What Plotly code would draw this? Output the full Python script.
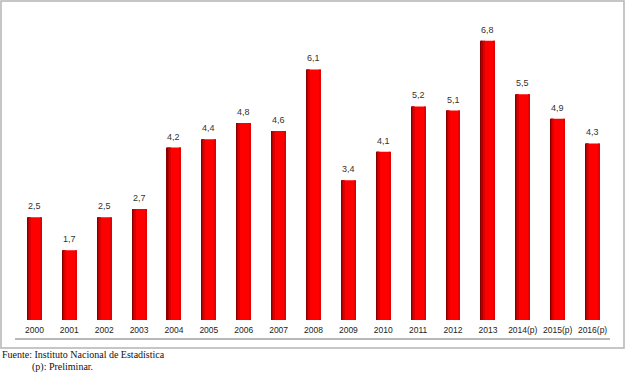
import plotly.graph_objects as go

years = ["2000", "2001", "2002", "2003", "2004", "2005", "2006", "2007", "2008",
         "2009", "2010", "2011", "2012", "2013", "2014(p)", "2015(p)", "2016(p)"]
values = [2.5, 1.7, 2.5, 2.7, 4.2, 4.4, 4.8, 4.6, 6.1, 3.4, 4.1, 5.2, 5.1, 6.8, 5.5, 4.9, 4.3]
labels = [f"{v:.1f}".replace(".", ",") for v in values]

W, H = 626, 376
ML, MR, MT, MB = 17, 16, 12, 56
pw = W - ML - MR
ph = H - MT - MB

def px(x):
    return (x - ML) / pw

def py(y):
    return (H - MB - y) / ph

BW = 0.4
fig = go.Figure()
# main bar
fig.add_trace(go.Bar(
    x=years, y=values, width=BW, offset=-BW / 2,
    marker=dict(color="#ff0000", line=dict(width=0)), hoverinfo="skip",
))
# cylinder shading stripes (same data, narrower overlays)
for off, wd, col in [(-BW / 2, 0.03, "#8a0000"), (-BW / 2 + 0.03, 0.03, "#b30000"),
                     (-BW / 2 + 0.06, 0.03, "#dc0000"), (BW / 2 - 0.03, 0.03, "#e40000")]:
    fig.add_trace(go.Bar(
        x=years, y=values, width=wd, offset=off,
        marker=dict(color=col, line=dict(width=0)), hoverinfo="skip",
    ))

# value labels: category index positions on the category axis
annotations = [
    dict(x=i, y=v, text=t, xref="x", yref="y", yanchor="bottom", showarrow=False,
         yshift=4, font=dict(family="Liberation Sans", size=9, color="#333333"))
    for i, (v, t) in enumerate(zip(values, labels))
]
annotations += [
    dict(text="Fuente: Instituto Nacional de Estadística", xref="paper", yref="paper",
         x=px(0), y=py(355), xanchor="left", yanchor="middle", showarrow=False,
         font=dict(family="Liberation Serif", size=10, color="#111111")),
    dict(text="(p): Preliminar.", xref="paper", yref="paper",
         x=px(30), y=py(367), xanchor="left", yanchor="middle", showarrow=False,
         font=dict(family="Liberation Serif", size=10, color="#111111")),
]

fig.update_layout(
    width=W, height=H,
    margin=dict(l=ML, r=MR, t=MT, b=MB),
    paper_bgcolor="white", plot_bgcolor="white",
    showlegend=False, barmode="overlay",
    xaxis=dict(type="category", categoryorder="array", categoryarray=years,
               range=[-0.5, len(years) - 0.5],
               showline=False, showgrid=False, zeroline=False,
               ticks="outside", ticklen=2, tickcolor="rgba(0,0,0,0)",
               tickfont=dict(family="Liberation Sans", size=8.5, color="#222222"),
               fixedrange=True),
    yaxis=dict(range=[0, 7.5], visible=False, fixedrange=True),
    shapes=[
        dict(type="rect", xref="paper", yref="paper",
             x0=px(1), x1=px(624), y0=py(348), y1=py(1),
             line=dict(color="#b4b4b4", width=1.5), fillcolor="rgba(0,0,0,0)"),
        dict(type="line", xref="paper", yref="paper",
             x0=px(15), x1=px(610), y0=py(339), y1=py(339),
             line=dict(color="#b8b8b8", width=2)),
    ],
    annotations=annotations,
)

fig.write_html("out.html", config={"displayModeBar": False},
               post_script="document.body.style.margin='0';document.body.style.overflow='hidden';")
